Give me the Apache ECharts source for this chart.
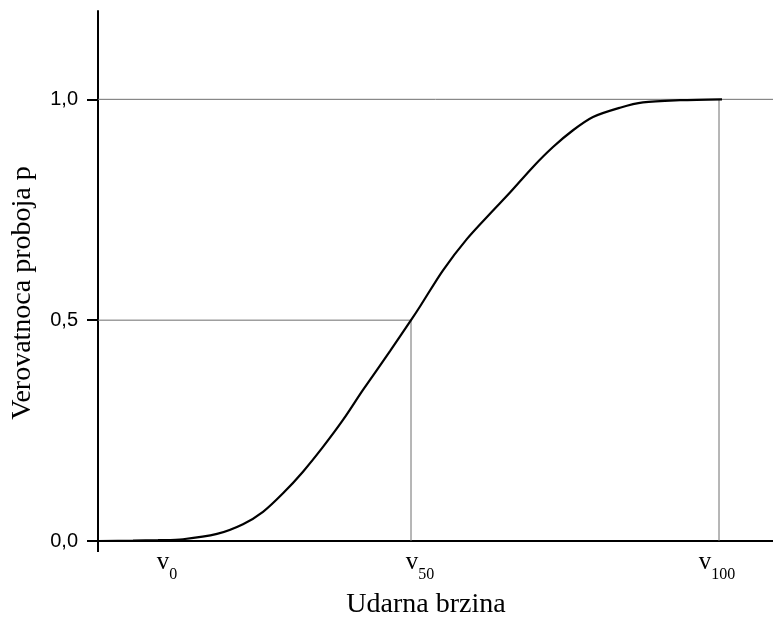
<!DOCTYPE html>
<html>
<head>
<meta charset="utf-8">
<script src="https://cdn.jsdelivr.net/npm/echarts@6/dist/echarts.min.js"></script>
<style>
html,body{margin:0;padding:0;background:#fff;}
#chart{width:773px;height:617px;}
</style>
</head>
<body>
<div id="chart"></div>
<script>
// ---- data ----
const xMin = 0;
const xMax = 675;
const yMin = 0;
const yMax = 1.2;
const yTicks = [0, 0.5, 1.0];
const xLabelPositions = [69, 322, 619];
const xLabelMain = ['v', 'v', 'v'];
const xLabelSub = ['0', '50', '100'];
const v50X = 313;
const v100X = 621;
const curveX = [0, 35, 60, 85, 119, 145, 165, 185, 205, 225, 245, 265, 292, 313, 322, 345, 369, 392, 412, 435, 455, 475, 495, 522, 545, 582, 624];
const curveY = [0, 0.001, 0.002, 0.004, 0.016, 0.038, 0.066, 0.108, 0.157, 0.213, 0.274, 0.342, 0.430, 0.5, 0.531, 0.613, 0.684, 0.741, 0.789, 0.847, 0.892, 0.930, 0.960, 0.981, 0.993, 0.998, 1.0];
const xTitle = 'Udarna brzina';
const yTitle = 'Verovatnoca proboja p';

// ---- chart ----
const curve = curveX.map((x, i) => [x, curveY[i]]);
const refStyle = {color: '#6e6e6e', width: 1};
const refSeries = (data) => ({
  type: 'line', data: data, symbol: 'none', silent: true,
  lineStyle: refStyle, z: 1
});

const chart = echarts.init(document.getElementById('chart'), null, {renderer: 'canvas'});
chart.setOption({
  animation: false,
  backgroundColor: '#fff',
  grid: {left: 98, right: 0, top: 11, bottom: 76, containLabel: false, outerBoundsMode: 'none'},
  xAxis: {
    type: 'value', min: xMin, max: xMax,
    splitLine: {show: false},
    axisLine: {show: true, onZero: false, lineStyle: {color: '#000', width: 2}},
    axisTick: {show: true, customValues: [0], length: 11, inside: false, lineStyle: {color: '#000', width: 2}},
    axisLabel: {
      show: true,
      customValues: xLabelPositions,
      margin: 9,
      formatter: function (val) {
        const i = xLabelPositions.indexOf(val);
        if (i < 0) return '';
        return '{v|' + xLabelMain[i] + '}{s|' + xLabelSub[i] + '}';
      },
      rich: {
        v: {fontFamily: 'Liberation Serif', fontSize: 25, color: '#000', verticalAlign: 'top'},
        s: {fontFamily: 'Liberation Serif', fontSize: 16, color: '#000', verticalAlign: 'top', padding: [17, 0, 0, 0]}
      }
    },
    name: xTitle,
    nameLocation: 'middle',
    nameGap: 50,
    nameTextStyle: {fontFamily: 'Liberation Serif', fontSize: 28, color: '#000', padding: [0, 19, 0, 0]}
  },
  yAxis: {
    type: 'value', min: yMin, max: yMax,
    splitLine: {show: false},
    axisLine: {show: true, onZero: false, lineStyle: {color: '#000', width: 2}},
    axisTick: {show: true, customValues: yTicks, length: 11, lineStyle: {color: '#000', width: 2}},
    axisLabel: {
      show: true, customValues: yTicks, margin: 20,
      fontFamily: 'Liberation Sans', fontSize: 20, color: '#000',
      formatter: function (val) { return val.toFixed(1).replace('.', ','); }
    },
    name: yTitle,
    nameLocation: 'middle',
    nameRotate: 90,
    nameGap: 61,
    nameTextStyle: {fontFamily: 'Liberation Serif', fontSize: 28, color: '#000', padding: [0, 34, 0, 0]}
  },
  series: [
    refSeries([[xMin, yTicks[2]], [xMax, yTicks[2]]]),
    refSeries([[xMin, yTicks[1]], [v50X, yTicks[1]]]),
    refSeries([[v50X, yTicks[0]], [v50X, yTicks[1]]]),
    refSeries([[v100X, yTicks[0]], [v100X, yTicks[2]]]),
    {
      type: 'line', data: curve, symbol: 'none', smooth: 0.3,
      lineStyle: {color: '#000', width: 2.2}, z: 5
    }
  ]
});
</script>
</body>
</html>
